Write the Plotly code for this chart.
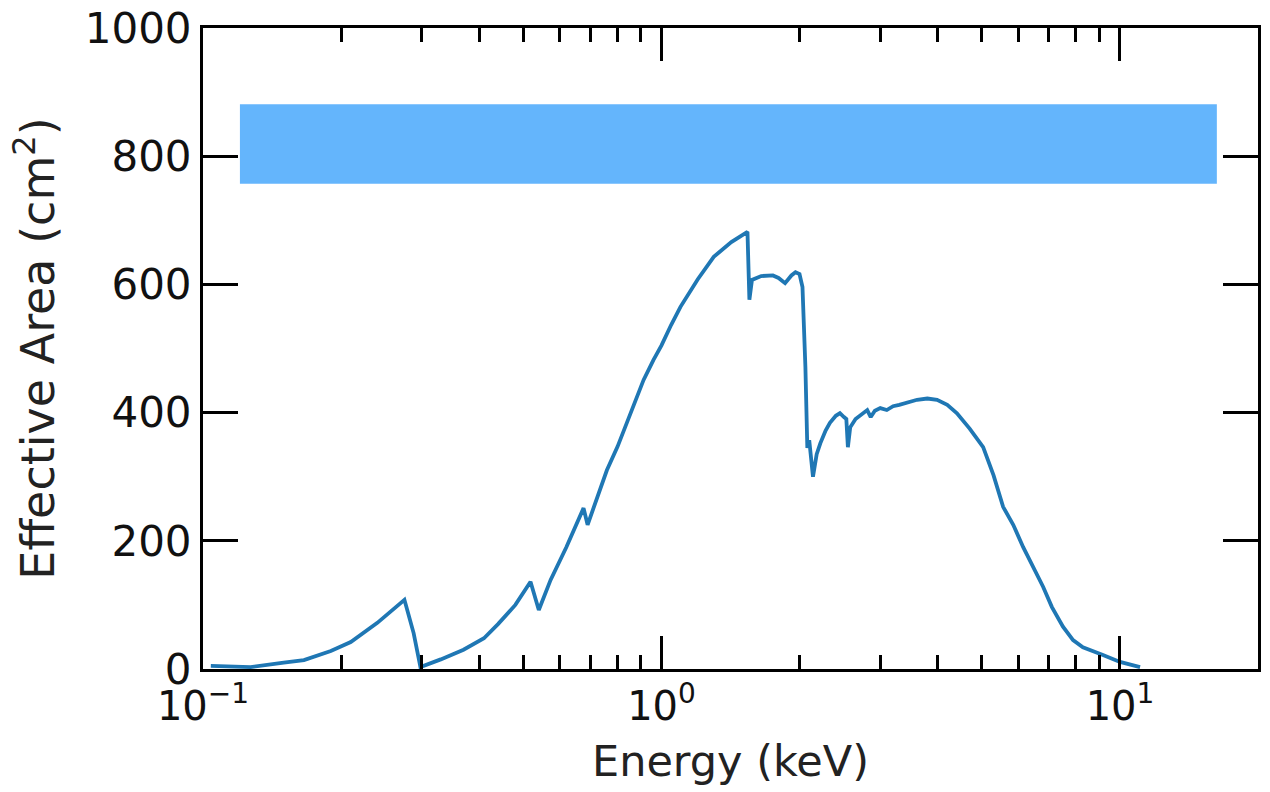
import plotly.graph_objects as go

# Data (energy in keV, effective area in cm^2)
energy_kev = [0.104, 0.127, 0.15, 0.166, 0.19, 0.21, 0.24, 0.275, 0.288, 0.298,
              0.33, 0.37, 0.41, 0.44, 0.48, 0.518, 0.540, 0.573, 0.62, 0.676,
              0.690, 0.726, 0.76, 0.802, 0.85, 0.914, 0.96, 1.0, 1.05, 1.10,
              1.2, 1.30, 1.42, 1.54, 1.555, 1.575, 1.65, 1.75, 1.80, 1.86,
              1.92, 1.96, 2.0, 2.03, 2.06, 2.08, 2.10, 2.14, 2.18, 2.22,
              2.28, 2.33, 2.40, 2.45, 2.50, 2.53, 2.55, 2.58, 2.65, 2.75,
              2.81, 2.86, 2.92, 3.0, 3.1, 3.2, 3.3, 3.61, 3.8, 3.99,
              4.2, 4.41, 4.7, 5.03, 5.3, 5.56, 5.85, 6.15, 6.45, 6.80,
              7.1, 7.51, 7.9, 8.30, 9.18, 10.0, 11.06]
eff_area = [5, 3, 10, 14, 28, 42, 72, 108, 56, 3,
            15, 30, 48, 70, 100, 136, 92, 139, 190, 251,
            225, 271, 310, 347, 395, 451, 482, 505, 537, 565,
            608, 643, 666, 682, 576, 607, 613, 614, 610, 602,
            614, 619, 616, 596, 471, 345, 357, 300, 335, 352,
            372, 384, 395, 399, 393, 390, 346, 377, 390, 400,
            404, 393, 403, 407, 404, 410, 412, 420, 422, 420,
            412, 399, 375, 346, 302, 253, 225, 190, 162, 128,
            97, 66, 45, 34, 22, 11, 3]

x_major_vals = [0.1, 1, 10]
x_major_text = ["10<sup>\u22121</sup>", "10<sup>0</sup>", "10<sup>1</sup>"]
x_minor_vals = [0.2, 0.3, 0.4, 0.5, 0.6, 0.7, 0.8, 0.9,
                2, 3, 4, 5, 6, 7, 8, 9]
y_tick_vals = [0, 200, 400, 600, 800, 1000]

FONT = "DejaVu Sans"

fig = go.Figure()
fig.add_trace(go.Scatter(
    x=energy_kev, y=eff_area, mode="lines",
    line=dict(color="#1f77b4", width=3.8),
    showlegend=False,
))

# blue box covering the legend area
fig.add_shape(type="rect", xref="paper", yref="paper",
              x0=0.035, x1=0.961, y0=0.757, y1=0.881,
              fillcolor="#64B5FC", line=dict(width=0), layer="above")

fig.update_layout(
    width=1270, height=792,
    margin=dict(l=203, r=12, t=28, b=123),
    paper_bgcolor="white", plot_bgcolor="white",
    font=dict(family=FONT, color="black"),
    xaxis=dict(
        type="log", range=[-1, 1.301], automargin=False,
        showline=True, linecolor="black", linewidth=3, mirror="ticks",
        showgrid=False, zeroline=False,
        tickmode="array", tickvals=x_major_vals, ticktext=x_major_text,
        ticks="inside", ticklen=33, tickwidth=3, tickcolor="black",
        tickfont=dict(size=40, family=FONT, color="#111"),
        minor=dict(tickmode="array", tickvals=x_minor_vals, ticks="inside",
                   ticklen=14, tickwidth=3, tickcolor="black", showgrid=False),
        title=dict(text="Energy (keV)", font=dict(size=43, family=FONT, color="#222"),
                   standoff=18),
    ),
    yaxis=dict(
        range=[0, 1000], automargin=False,
        showline=True, linecolor="black", linewidth=3, mirror="ticks",
        showgrid=False, zeroline=False,
        tickmode="array", tickvals=y_tick_vals,
        ticks="inside", ticklen=35, tickwidth=3, tickcolor="black",
        tickfont=dict(size=42, family=FONT, color="#111"),
        title=dict(text="Effective Area (cm<sup>2</sup>)",
                   font=dict(size=46, family=FONT, color="#222"), standoff=16),
    ),
)

fig.write_html("out.html")
